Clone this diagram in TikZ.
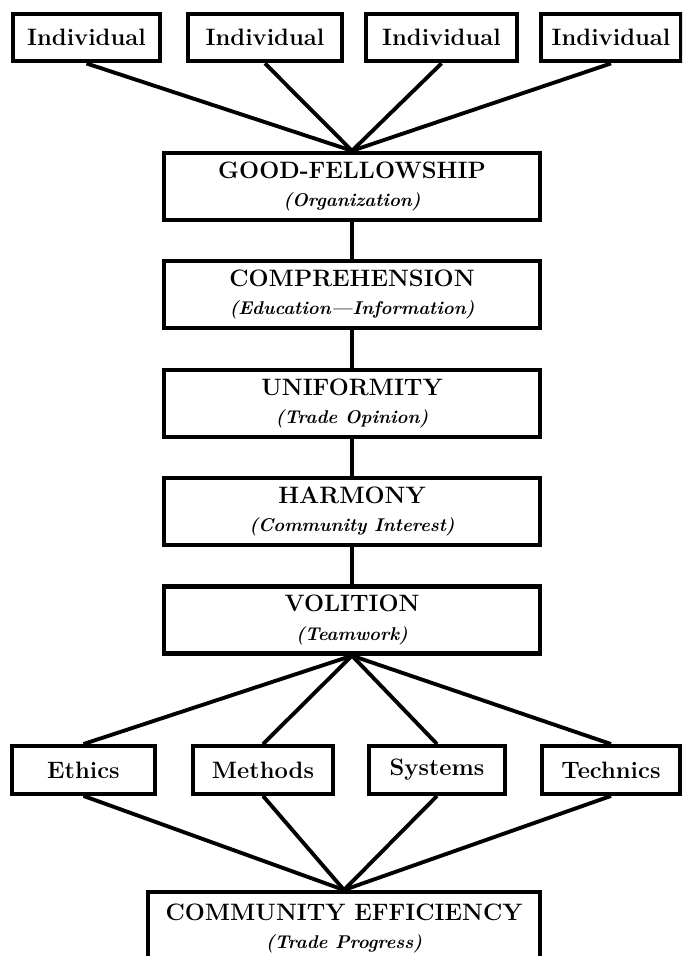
\documentclass[tikz,border=0pt]{standalone}
\usepackage{amsmath}
\usepackage{amssymb}

\newcommand{\subfont}{\fontsize{10.5}{16}\selectfont\bfseries\itshape}

\begin{document}
\begin{tikzpicture}
  [every node/.style={draw,line width=2.5pt,align=center,inner sep=2pt,
     font=\fontsize{13.5}{16}\selectfont\bfseries},
   small/.style={minimum height=.95cm},
   stage/.style={minimum width=7.52cm,minimum height=1.34cm}]
  \useasboundingbox (0,0) rectangle (13.64,19.12);
  \clip (0,0) rectangle (13.64,19.12);

  % top row
  \node[small,minimum width=2.94cm] (ind1) at (1.73,18.37) {Individual};
  \node[small,minimum width=3.08cm] (ind2) at (5.30,18.37) {Individual};
  \node[small,minimum width=3.02cm] (ind3) at (8.83,18.37) {Individual};
  \node[small,minimum width=2.80cm] (ind4) at (12.22,18.37) {Individual};

  % the stages
  \node[stage] (good) at (7.04,15.39) {GOOD-FELLOWSHIP\\{\subfont (Organization)}};
  \node[stage] (comp) at (7.04,13.23) {COMPREHENSION\\{\subfont (Education---Information)}};
  \node[stage] (unif) at (7.04,11.05) {UNIFORMITY\\{\subfont (Trade Opinion)}};
  \node[stage] (harm) at (7.04,8.89) {HARMONY\\{\subfont (Community Interest)}};
  \node[stage] (vol) at (7.04,6.72) {VOLITION\\{\subfont (Teamwork)}};

  % bottom row
  \node[small,minimum width=2.86cm] (eth) at (1.67,3.72) {Ethics};
  \node[small,minimum width=2.80cm] (meth) at (5.26,3.72) {Methods};
  \node[small,minimum width=2.72cm] (sys) at (8.74,3.72) {Systems};
  \node[small,minimum width=2.76cm] (tech) at (12.22,3.72) {Technics};

  \node[anchor=north,minimum width=7.84cm,minimum height=1.44cm] (eff) at (6.88,1.32)
    {COMMUNITY EFFICIENCY\\{\subfont (Trade Progress)}};

  \foreach \from in {ind1,ind2,ind3,ind4}
    \draw [line width=2.2pt] (\from.south) -- (good.north);
  \foreach \from/\to in {good/comp, comp/unif, unif/harm, harm/vol}
    \draw [line width=2pt] (\from) -- (\to);
  \foreach \to in {eth,meth,sys,tech} {
    \draw [line width=2.2pt] (vol.south) -- (\to.north);
    \draw [line width=2.2pt] (\to.south) -- (eff.north);
  }

\end{tikzpicture}
\end{document}
